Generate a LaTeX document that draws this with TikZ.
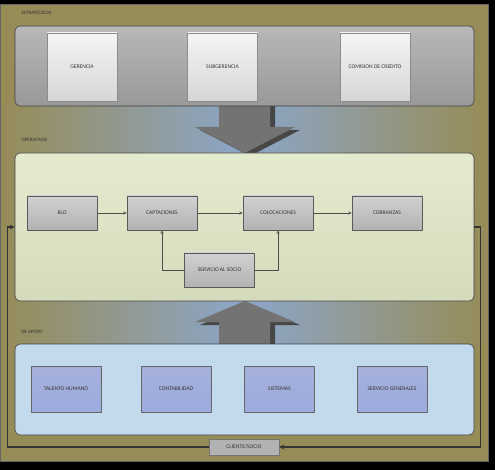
\documentclass[tikz,border=0pt]{standalone}
\usepackage{fontspec}
\setmainfont{Carlito}
\definecolor{oliva}{HTML}{968C58}
\definecolor{celeste}{HTML}{8CA6C9}
\definecolor{verdeclaro}{HTML}{E0E7C6}
\definecolor{azulclaro}{HTML}{C3DAEC}
\definecolor{lila}{HTML}{95A3D4}
\begin{document}
\begin{tikzpicture}[x=1pt,y=-1pt,line join=round,>=stealth,
	font=\fontsize{5.6}{6}\selectfont,text=black!80,
	banda/.style={draw=black!75,line width=.6pt,rounded corners=5pt,minimum width=459pt},
	blanca/.style={draw=black!45,top color=white!96!black,bottom color=white!84!black,minimum width=70pt,minimum height=68pt},
	proceso/.style={draw=black!65,line width=.7pt,top color=black!18,bottom color=black!30,minimum width=70pt,minimum height=34pt},
	soporte/.style={draw=black!60,top color=lila!85,bottom color=lila!105!black,minimum width=70pt,minimum height=46pt},
	titulo/.style={anchor=west,font=\fontsize{5}{5}\selectfont},
	enlace/.style={->,draw=black!70,line width=.5pt},
	lazo/.style={->,draw=black!80,line width=1.2pt}]
	\useasboundingbox (0,0) rectangle (495,470);
	%fondo
	\fill[black] (0,0) rectangle (495,470);
	\fill[oliva,draw=black!60] (0,4) rectangle (488,461);
	\shade[left color=oliva,right color=oliva,middle color=celeste] (2,106) rectangle (486,344);
	%flechas grandes
	\foreach \d/\c in {5/black!72,0/black!55}{
		\fill[\c,shift={(\d,\d*0.6)}] (219,100)--(270,100)--(270,127)--(295,127)--(245,153)--(195,127)--(219,127)--cycle;
		\fill[\c,shift={(\d,\d*0.6)}] (245,301)--(295,322)--(270,322)--(270,346)--(219,346)--(219,322)--(195,322)--cycle;
	}
	%bandas
	\node[banda,top color=black!28,bottom color=black!40,minimum height=80pt] (estrategicos) at (244.5,66) {};
	\node[banda,top color=verdeclaro!85!white,bottom color=verdeclaro!95!black,minimum height=148pt] (operativos) at (244.5,227) {};
	\node[banda,fill=azulclaro,minimum height=91pt] (apoyo) at (244.5,389.5) {};
	\node[titulo] (t1) at (18,13) {ESTRATEGICOS};
	\node[titulo] (t2) at (18,140) {OPERATIVOS};
	\node[titulo] (t3) at (18,332) {DE APOYO};
	%estrategicos
	\foreach \p/\x/\t in {ger/82/GERENCIA,sub/222.5/SUBGERENCIA,com/375/COMISION DE CREDITO}
	\node[blanca] (\p) at (\x,67) {\t};
	%operativos
	\foreach \p/\x/\t in {blo/62/BLO,cap/162/CAPTACIONES,col/278/COLOCACIONES,cob/387/COBRANZAS}
	\node[proceso] (\p) at (\x,213) {\t};
	\node[proceso] (ser) at (219.5,270) {SERVICIO AL SOCIO};
	\draw[enlace] (blo)--(cap);
	\draw[enlace] (cap)--(col);
	\draw[enlace] (col)--(cob);
	\draw[enlace] (ser.west)-|(cap.south);
	\draw[enlace] (ser.east)-|(col.south);
	%de apoyo
	\foreach \p/\x/\t in {tal/66/TALENTO HUMANO,con/176/CONTABILIDAD,sis/279.5/SISTEMAS,gen/392/SERVICIO GENERALES}
	\node[soporte] (\p) at (\x,389) {\t};
	%cliente
	\node[draw=black!55,fill=black!30,minimum width=70pt,minimum height=16pt] (cli) at (244,447) {CLIENTE/SOCIO};
	\draw[lazo] (cli.west)-|([xshift=-7pt]operativos.west)--(operativos.west);
	\draw[lazo] (operativos.east)--++(6,0)|-(cli.east);
\end{tikzpicture}
\end{document}
